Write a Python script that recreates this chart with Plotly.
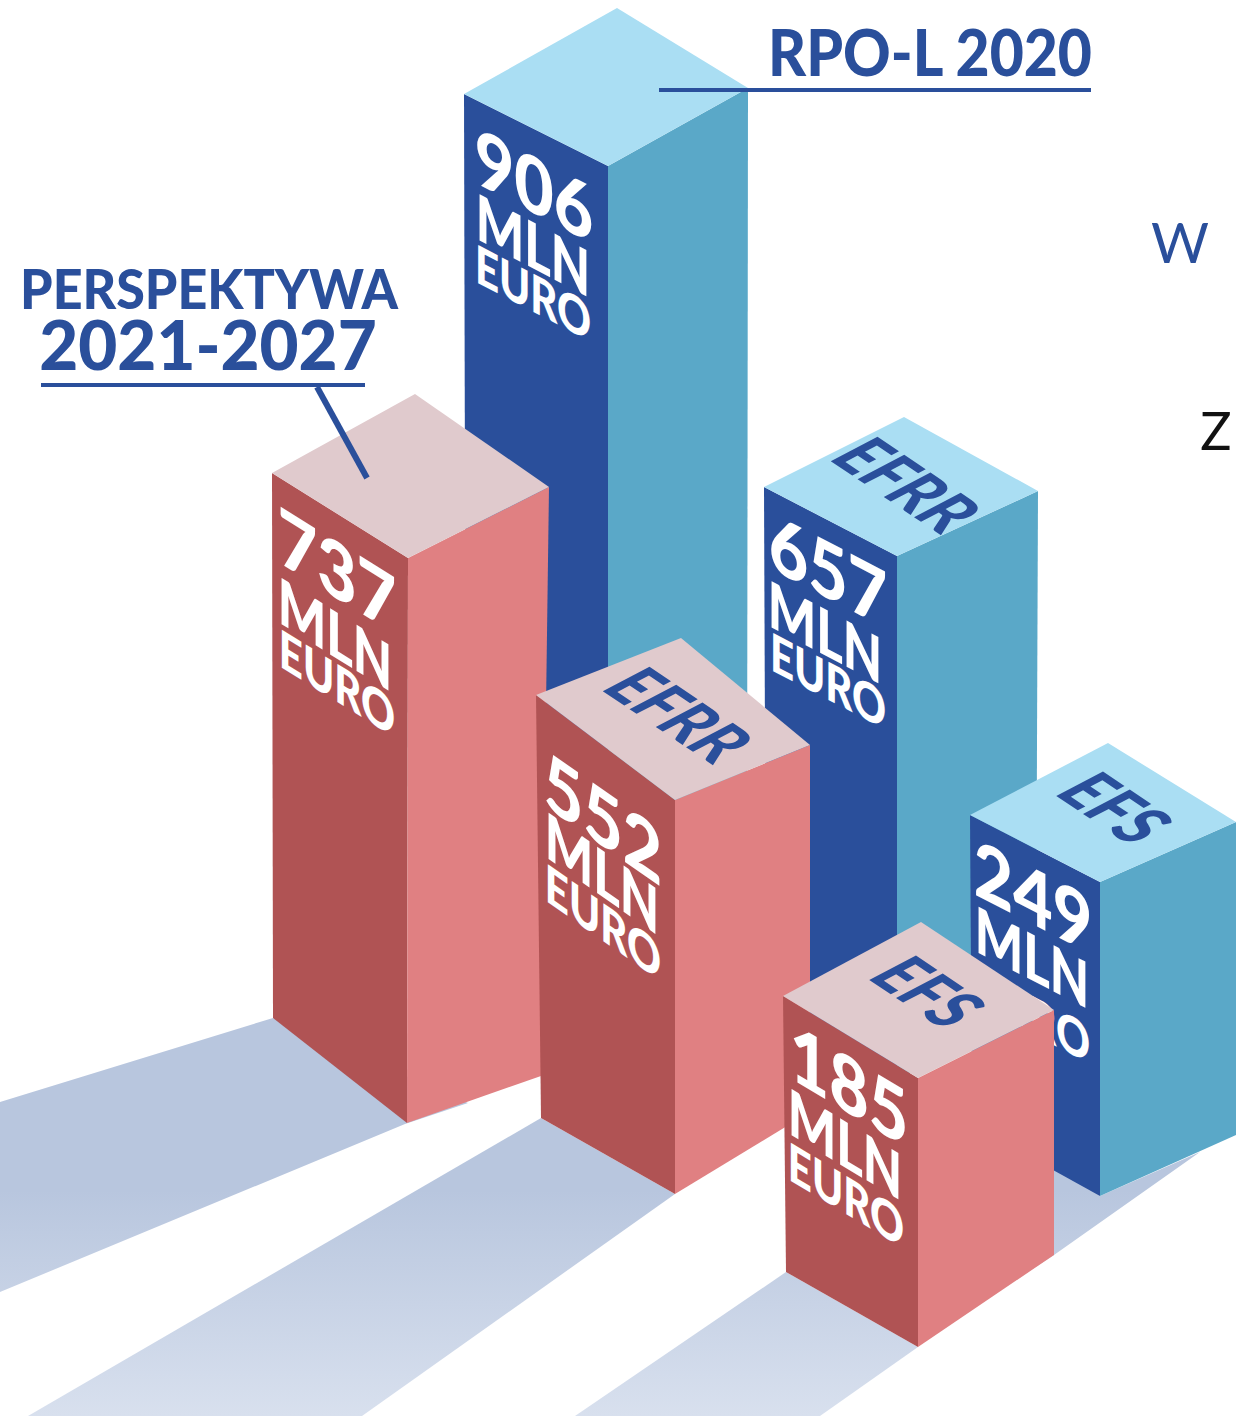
import plotly.graph_objects as go

# ---------- data ----------
BAR_VALUES = [906, 737, 552, 657, 249, 185]
BAR_UNIT = ["MLN", "EURO"]
TOP_LABELS = ["EFRR", "EFRR", "EFS", "EFS"]
HEADINGS = ["PERSPEKTYWA", "2021-2027", "RPO-L 2020"]
CROPPED_TEXT = ["W", "Z"]

# ---------- drawing geometry (hand-drawn isometric infographic) ----------
W, H = 1236, 1416
BLUE, TEAL, SKY = "#2a4f9b", "#5aa8c8", "#aadef3"
RED, PINK, BLUSH = "#b05354", "#e08082", "#e0cacd"
COL = {906: (BLUE, TEAL, SKY), 657: (BLUE, TEAL, SKY), 249: (BLUE, TEAL, SKY),
       737: (RED, PINK, BLUSH), 552: (RED, PINK, BLUSH), 185: (RED, PINK, BLUSH)}
# left top, mid top, right top, apex
TOP = {906: [(464, 94), (608, 166), (748, 88), (617, 8)],
       737: [(272, 473), (408, 558), (549, 487), (415, 394)],
       552: [(536, 695), (675, 800), (810, 745), (681, 638)],
       657: [(764, 487), (897, 556), (1038, 491), (904, 417)],
       249: [(970, 815), (1100, 882), (1236, 822), (1108, 743)],
       185: [(783, 996), (918, 1078), (1054, 1010), (921, 922)]}
# left bottom, mid bottom, right bottom
BOTTOM = {906: [(466, 900), (608, 1000), (747, 900)],
          737: [(273, 1018), (407, 1123), (541, 1076)],
          552: [(541, 1118), (675, 1194), (810, 1112)],
          657: [(766, 1000), (897, 1080), (1036, 1000)],
          249: [(972, 1125), (1100, 1196), (1236, 1135)],
          185: [(786, 1272), (918, 1347), (1054, 1255)]}
SHADOWS = [[(273, 1018), (0, 1102), (0, 1292), (405, 1124), (468, 1103)],
           [(541, 1118), (28, 1416), (362, 1416), (675, 1194)],
           [(786, 1272), (575, 1416), (820, 1416), (918, 1347)],
           [(1000, 1150), (1054, 1150), (1100, 1196), (1200, 1152), (1054, 1255), (1000, 1290)]]
DRAW_ORDER = [906, 657, 249, 737, 552, 185]
# number centre, MLN centre, EURO centre, shear slope
FRONT_TEXT = {906: [(534, 187), (533, 248), (533, 295), 0.52],
              737: [(337, 572), (335, 637), (337, 685), 0.62],
              552: [(603, 820), (602, 876), (603, 924), 0.70],
              657: [(828, 572), (825, 635), (828, 683), 0.52],
              249: [(1033, 898), (1032, 960), (1032, 1017), 0.515],
              185: [(849, 1087), (845, 1147), (846, 1197), 0.60]}
TOP_TEXT = [(884, 483, 657), (656, 713, 552), (1092, 806, 249), (905, 990, 185)]
TOP_MATRIX = (0.83, 0.56, -1.15, 0.60)

fig = go.Figure()


def poly(points, color):
    fig.add_trace(go.Scatter(x=[p[0] for p in points] + [points[0][0]],
                             y=[p[1] for p in points] + [points[0][1]],
                             mode="lines", fill="toself", fillcolor=color,
                             line=dict(width=0, color=color),
                             hoverinfo="skip", showlegend=False))


def label(text, x, y, size, color, matrix=(1, 0, 0, 1), family="Lato", weight=900, shift=0.12):
    fig.add_trace(go.Scatter(x=[x], y=[y + shift * size * matrix[3]], mode="text", text=[text],
                             textposition="middle center",
                             textfont=dict(family=family, size=size, color=color, weight=weight),
                             meta=dict(m=list(matrix)),
                             hoverinfo="skip", showlegend=False))


def line(x0, y0, x1, y1, width):
    fig.add_trace(go.Scatter(x=[x0, x1], y=[y0, y1], mode="lines",
                             line=dict(color=BLUE, width=width),
                             hoverinfo="skip", showlegend=False))


for pts in SHADOWS:
    fig.add_trace(go.Scatter(x=[p[0] for p in pts] + [pts[0][0]], y=[p[1] for p in pts] + [pts[0][1]],
                             mode="lines", fill="toself", line=dict(width=0, color="#b8c6de"),
                             fillgradient=dict(type="vertical", start=1416, stop=1190,
                                               colorscale=[[0, "#d8e0ee"], [1, "#b8c6de"]]),
                             hoverinfo="skip", showlegend=False))

for v in DRAW_ORDER:
    dark, light, pale = COL[v]
    lt, mt, rt, ap = TOP[v]
    lb, mb, rb = BOTTOM[v]
    poly([lt, mt, mb, lb], dark)
    poly([mt, rt, rb, mb], light)
    poly([lt, mt, rt, ap], pale)
    num_c, mln_c, eur_c, s = FRONT_TEXT[v]
    label(str(v), num_c[0], num_c[1], 68, "#ffffff", (1, s, 0, 1.15))
    label(BAR_UNIT[0], mln_c[0], mln_c[1], 51, "#ffffff", (1, s, 0, 1.25))
    label(BAR_UNIT[1], eur_c[0], eur_c[1], 42, "#ffffff", (1, s, 0, 1.25))
    for txt, (cx, cy, owner) in zip(TOP_LABELS, TOP_TEXT):
        if owner == v:
            label(txt, cx, cy, 56, BLUE, TOP_MATRIX, shift=0)

label(HEADINGS[0], 209, 289, 52, BLUE, (1.0, 0, 0, 1.05))
label(HEADINGS[1], 208, 345, 66, BLUE, (1.02, 0, 0, 1.05))
label(HEADINGS[2], 930, 53, 60, BLUE, (0.98, 0, 0, 1.08))
line(41, 385, 365, 385, 4)
line(317, 387, 367, 478, 6)
line(659, 90, 1091, 90, 4)
label(CROPPED_TEXT[0], 1180, 242, 56, BLUE, weight=400)
label(CROPPED_TEXT[1], 1216, 431, 52, "#111111", weight=400)

fig.update_layout(width=W, height=H, margin=dict(l=0, r=0, t=0, b=0),
                  paper_bgcolor="white", plot_bgcolor="white", showlegend=False,
                  xaxis=dict(range=[0, W], visible=False, fixedrange=True),
                  yaxis=dict(range=[H, 0], visible=False, fixedrange=True))

POST = """
document.body.style.margin='0';
document.documentElement.style.overflow='hidden';
var gd=document.getElementById('{plot_id}');
var traces=gd.querySelectorAll('.scatterlayer .trace');
traces.forEach(function(tr,i){
  var meta=gd.data[i].meta; if(!meta||!meta.m) return;
  var m=meta.m;
  tr.querySelectorAll('.textpoint text').forEach(function(t){
    var x=+t.getAttribute('x'), y=+t.getAttribute('y');
    t.setAttribute('transform','translate('+x+','+y+') matrix('+m.join(',')+',0,0) translate('+(-x)+','+(-y)+')');
  });
});
"""
fig.write_html("out.html", post_script=POST, config=dict(displayModeBar=False))
